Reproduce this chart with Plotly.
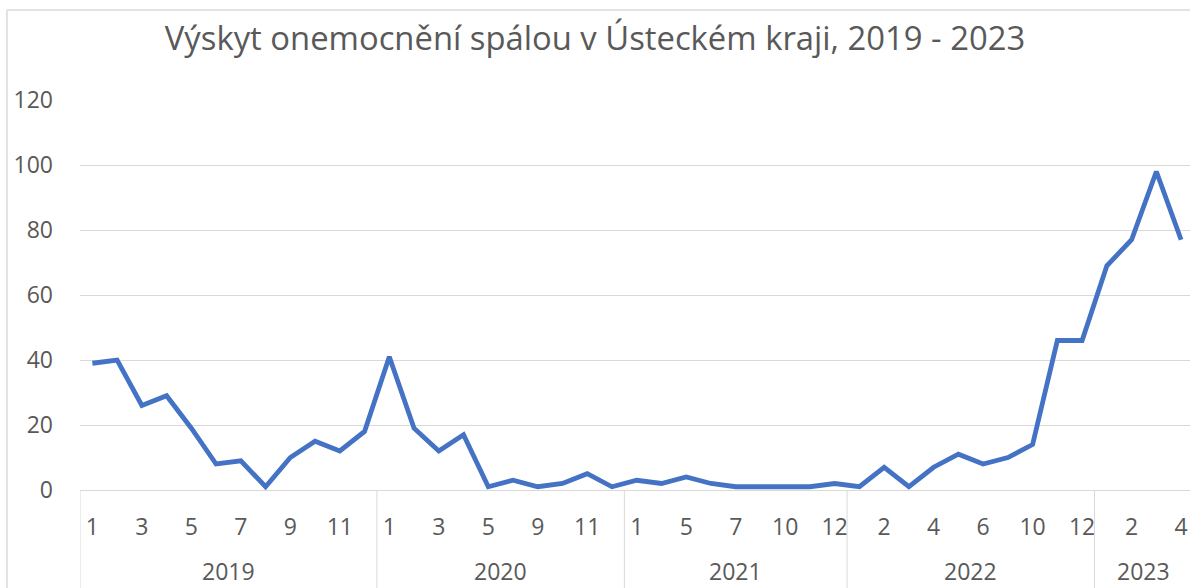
import plotly.graph_objects as go

# ---- data ----
years = ["2019", "2020", "2021", "2022", "2023"]
months_2019 = [1, 2, 3, 4, 5, 6, 7, 8, 9, 10, 11, 12]
months_2020 = [1, 2, 3, 4, 5, 6, 9, 10, 11, 12]
months_2021 = [1, 3, 5, 6, 7, 9, 10, 11, 12]
months_2022 = [1, 2, 3, 4, 5, 6, 8, 10, 11, 12]
months_2023 = [1, 2, 3, 4]
cases_2019 = [39, 40, 26, 29, 19, 8, 9, 1, 10, 15, 12, 18]
cases_2020 = [41, 19, 12, 17, 1, 3, 1, 2, 5, 1]
cases_2021 = [3, 2, 4, 2, 1, 1, 1, 1, 2]
cases_2022 = [1, 7, 1, 7, 11, 8, 10, 14, 46, 46]
cases_2023 = [69, 77, 98, 77]
y_ticks = [0, 20, 40, 60, 80, 100, 120]

months_by_year = [months_2019, months_2020, months_2021, months_2022, months_2023]
cases_by_year = [cases_2019, cases_2020, cases_2021, cases_2022, cases_2023]

TXT = "#595959"
GRID = "#D9D9D9"
FONT = "Open Sans"

xs, ys = [], []
tickvals, ticktext = [], []
group_bounds = []
idx = 0
for yr, ms, cs in zip(years, months_by_year, cases_by_year):
    start = idx
    for m, c in zip(ms, cs):
        xs.append(idx)
        ys.append(c)
        if idx % 2 == 0:  # every other category label along the whole axis
            tickvals.append(idx)
            ticktext.append(str(m))
        idx += 1
    group_bounds.append((yr, start, idx - 1))

fig = go.Figure()
fig.add_trace(go.Scatter(
    x=xs, y=ys, mode="lines",
    line=dict(color="#4472C4", width=4.8),
    hoverinfo="skip", showlegend=False,
))

shapes = []
annotations = []
for yr, s, e in group_bounds:
    annotations.append(dict(
        x=(s + e) / 2, y=-0.208, xref="x", yref="paper",
        text=yr, showarrow=False, xanchor="center", yanchor="middle",
        borderpad=0,
        font=dict(family=FONT, size=23, color=TXT),
    ))
    shapes.append(dict(
        type="line", xref="x", yref="paper",
        x0=s - 0.5, x1=s - 0.5, y0=0, y1=-0.35,
        line=dict(color=GRID, width=1),
    ))

# chart frame (top and left edges visible)
shapes.append(dict(type="line", xref="paper", yref="paper",
                   x0=-0.0658, x1=1.2, y0=1.231, y1=1.231,
                   line=dict(color=GRID, width=1.5)))
shapes.append(dict(type="line", xref="paper", yref="paper",
                   x0=-0.0658, x1=-0.0658, y0=1.231, y1=-0.4,
                   line=dict(color=GRID, width=1.5)))

fig.update_layout(
    width=1190, height=588,
    margin=dict(l=80, r=0, t=100, b=98),
    paper_bgcolor="white", plot_bgcolor="white",
    title=dict(
        text="Výskyt onemocnění spálou v Ústeckém kraji, 2019 - 2023",
        x=0.5, xanchor="center", y=0.935, yanchor="middle",
        xref="container",
        font=dict(family=FONT, size=32.8, color=TXT),
    ),
    xaxis=dict(
        range=[-0.5, len(xs) - 0.64],
        tickvals=tickvals, ticktext=ticktext,
        showgrid=False, zeroline=False,
        showline=True, linecolor=GRID, linewidth=1,
        ticks="", ticklabelstandoff=16,
        tickfont=dict(family=FONT, size=23, color=TXT),
        fixedrange=True,
    ),
    yaxis=dict(
        range=[0, 120], tickvals=y_ticks,
        showgrid=True, gridcolor=GRID, gridwidth=1,
        zeroline=False, showline=False,
        ticks="", ticklabelstandoff=26,
        tickfont=dict(family=FONT, size=23, color=TXT),
        fixedrange=True,
    ),
    shapes=shapes,
    annotations=annotations,
)

fig.write_html(
    "out.html",
    config={"displayModeBar": False},
    post_script="document.body.style.margin='0px';document.body.style.overflow='hidden';",
)
